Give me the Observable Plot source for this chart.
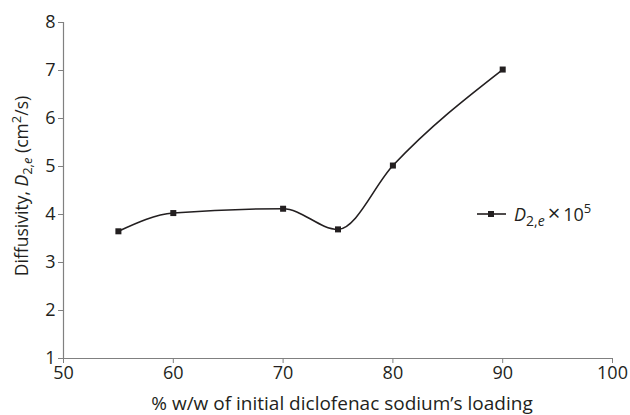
<!DOCTYPE html>
<html>
<head>
<meta charset="utf-8">
<script src="https://cdn.jsdelivr.net/npm/d3@7"></script>
<script src="https://cdn.jsdelivr.net/npm/@observablehq/plot@0.6"></script>
<style>
  body { margin: 0; background: #fff; }
  #chart svg { display: block; font-family: "Open Sans", "Noto Sans", sans-serif; }
</style>
</head>
<body>
<div id="chart"></div>
<script>
const loading = [55, 60, 70, 75, 80, 90];
const diffusivity = [3.65, 4.03, 4.12, 3.69, 5.02, 7.02];
const xTicks = [50, 60, 70, 80, 90, 100];
const yTicks = [1, 2, 3, 4, 5, 6, 7, 8];
const xLabel = "% w/w of initial diclofenac sodium\u2019s loading";

const data = loading.map((x, i) => ({x, y: diffusivity[i]}));
const ink = "#231f20";
const axisGray = "#808080";
const font = "'Open Sans', 'Noto Sans', sans-serif";

const chart = Plot.plot({
  width: 630,
  height: 415,
  marginLeft: 63,
  marginRight: 18,
  marginTop: 22,
  marginBottom: 57,
  style: {fontFamily: font, fontSize: "18px", color: ink, background: "#fff"},
  x: {domain: [50, 100]},
  y: {domain: [1, 8]},
  marks: [
    Plot.axisX({ticks: xTicks, tickFormat: d => String(d), tickSize: 5, tickPadding: 3, fontSize: 18, label: null, stroke: axisGray, strokeOpacity: 1, fill: ink}),
    Plot.axisY({ticks: yTicks, tickFormat: d => String(d), tickSize: 5, tickPadding: 3, fontSize: 18, label: null, stroke: axisGray, strokeOpacity: 1, fill: ink}),
    Plot.ruleX([50], {stroke: axisGray, strokeWidth: 1.2}),
    Plot.ruleY([1], {stroke: axisGray, strokeWidth: 1.2}),
    Plot.line(data, {x: "x", y: "y", curve: "monotone-x", stroke: ink, strokeWidth: 1.6}),
    Plot.dot(data, {x: "x", y: "y", symbol: "square", r: 3.4, fill: ink, stroke: "none"})
  ]
});

document.getElementById("chart").appendChild(chart);
const svg = d3.select(chart);

// x-axis title
svg.append("text")
  .attr("x", 342).attr("y", 410)
  .attr("text-anchor", "middle")
  .attr("font-family", font).attr("font-size", 19).attr("fill", ink)
  .text(xLabel);

// y-axis title (rich text)
const yl = svg.append("text")
  .attr("transform", "translate(28,186) rotate(-90)")
  .attr("text-anchor", "middle")
  .attr("font-family", font).attr("font-size", 17.5).attr("fill", ink);
yl.append("tspan").text("Diffusivity, ");
yl.append("tspan").attr("font-style", "italic").text("D");
yl.append("tspan").attr("font-size", 13).attr("dy", 4).text("2,");
yl.append("tspan").attr("font-size", 13).attr("font-style", "italic").text("e");
yl.append("tspan").attr("dy", -4).text(" (cm");
yl.append("tspan").attr("font-size", 13).attr("dy", -7).text("2");
yl.append("tspan").attr("dy", 7).text("/s)");

// legend
const lg = svg.append("g");
lg.append("line").attr("x1", 477).attr("x2", 506).attr("y1", 214).attr("y2", 214)
  .attr("stroke", ink).attr("stroke-width", 1.6);
lg.append("rect").attr("x", 488).attr("y", 211).attr("width", 6).attr("height", 6).attr("fill", ink);
const lt = lg.append("text").attr("x", 514).attr("y", 221)
  .attr("text-anchor", "start")
  .attr("font-family", font).attr("font-size", 18).attr("fill", ink);
lt.append("tspan").attr("font-style", "italic").text("D");
lt.append("tspan").attr("font-size", 14).attr("dy", 5).text("2,");
lt.append("tspan").attr("font-size", 14).attr("font-style", "italic").text("e");
lt.append("tspan").attr("dy", -5).attr("font-size", 22).attr("dx", 3).text("\u00d7");
lt.append("tspan").attr("dx", 3).text("10");
lt.append("tspan").attr("font-size", 13).attr("dy", -8).text("5");
</script>
</body>
</html>
